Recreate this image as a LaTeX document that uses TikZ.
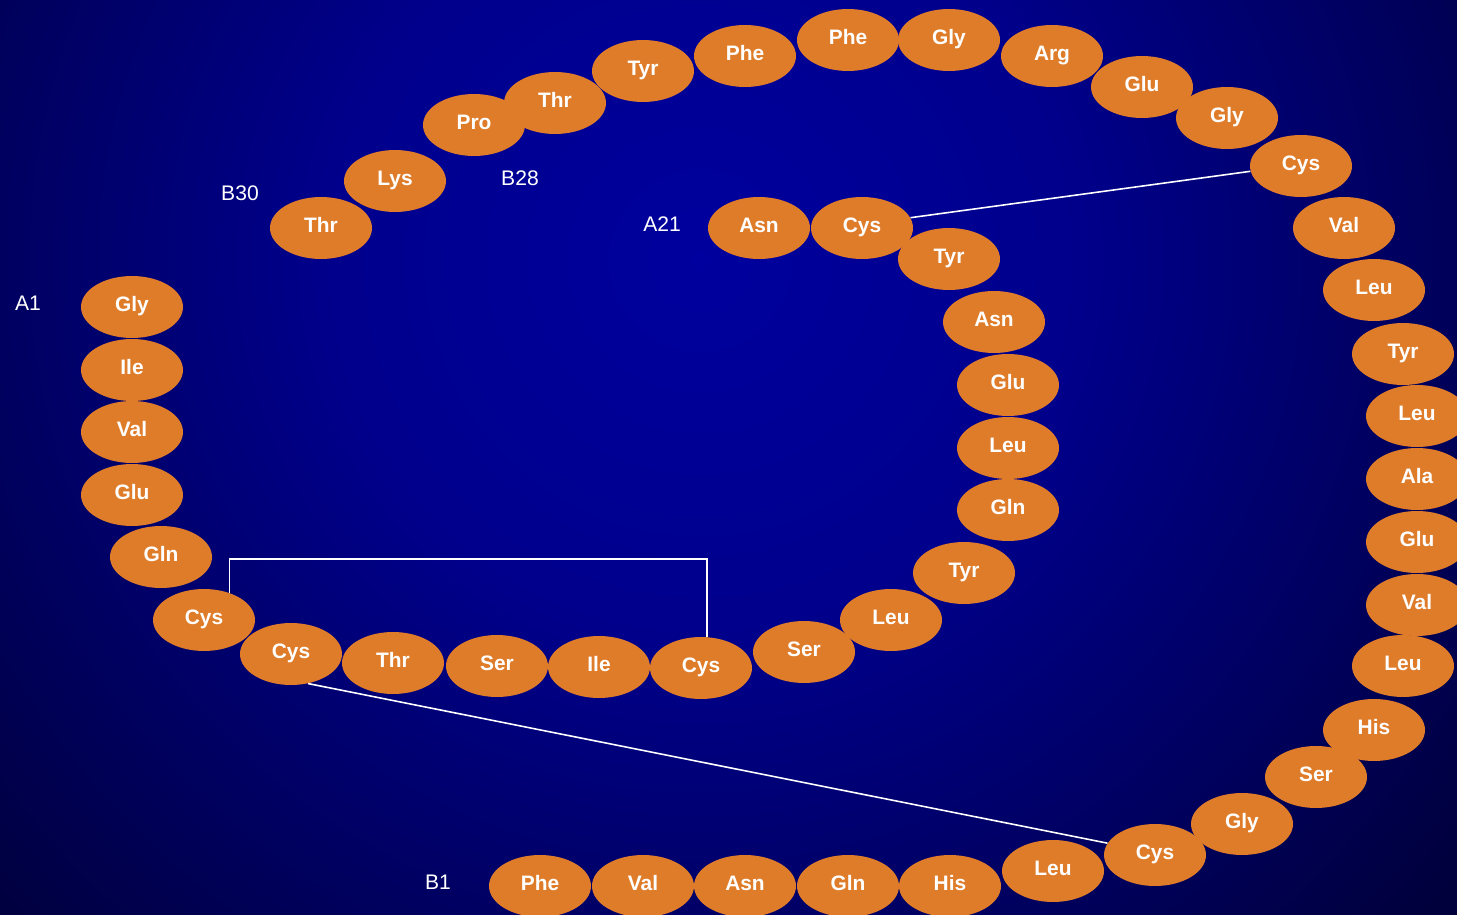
\documentclass[tikz,border=0pt]{standalone}
\usepackage{fontspec}
\setmainfont{Liberation Sans}
\usetikzlibrary{shapes.geometric, calc}

\definecolor{aminofill}{RGB}{223,124,42}
\definecolor{glowin}{RGB}{0,0,158}
\definecolor{glowmid}{RGB}{0,0,140}
\definecolor{glowhalf}{RGB}{0,0,62}
\definecolor{glowedge}{RGB}{0,0,26}
\definecolor{glowout}{RGB}{0,0,10}
\pgfdeclareradialshading{bgglow}{\pgfpoint{0bp}{0bp}}%
  {color(0bp)=(glowin); color(8bp)=(glowmid); color(21bp)=(glowhalf);
   color(30bp)=(glowedge); color(50bp)=(glowout)}

\begin{document}
\begin{tikzpicture}[
  x=0.02cm, y=-0.02cm,
  every node/.style={text=white},
  residue/.style={ellipse, fill=aminofill, minimum width=2.04cm,
                  minimum height=1.24cm, inner sep=0pt,
                  font=\fontsize{11.9}{14}\selectfont\bfseries,
                  text height=8.6pt, text depth=3.6pt},
  chainlabel/.style={font=\fontsize{12}{14}\selectfont, inner sep=0pt,
                     text height=8.7pt, text depth=0pt},
  bond/.style={draw=white, line width=0.9pt},
]
  \useasboundingbox (0,0) rectangle (1457,915);
  \clip (0,0) rectangle (1457,915);
  \shade[shading=bgglow] (700,260) circle (1150);

  % A chain
  \foreach \n/\x/\y/\t in {a1/132/307/Gly, a2/132/370/Ile, a3/132/432/Val,
      a4/132/495/Glu, a5/161/557/Gln, a6/204/620/Cys, a7/291/654/Cys,
      a8/393/663/Thr, a9/497/666/Ser, a10/599/667/Ile, a11/701/668/Cys,
      a12/804/652/Ser, a13/891/620/Leu, a14/964/573/Tyr, a15/1008/510/Gln,
      a16/1008/448/Leu, a17/1008/385/Glu, a18/994/322/Asn, a19/949/259/Tyr,
      a20/862/228/Cys, a21/759/228/Asn}
    \node[residue] (\n) at (\x,\y) {\t};

  % B chain
  \foreach \n/\x/\y/\t in {b1/540/886/Phe, b2/643/886/Val, b3/745/886/Asn,
      b4/848/886/Gln, b5/950/886/His, b6/1053/871/Leu, b7/1155/855/Cys,
      b8/1242/824/Gly, b9/1316/777/Ser, b10/1374/730/His, b11/1403/666/Leu,
      b12/1417/605/Val, b13/1417/542/Glu, b14/1417/479/Ala, b15/1417/416/Leu,
      b16/1403/354/Tyr, b17/1374/290/Leu, b18/1344/228/Val, b19/1301/166/Cys,
      b20/1227/118/Gly, b21/1142/87/Glu, b22/1052/56/Arg, b23/949/40/Gly,
      b24/848/40/Phe, b25/745/56/Phe, b26/643/71/Tyr, b27/555/103/Thr,
      b28/474/125/Pro, b29/395/181/Lys, b30/321/228/Thr}
    \node[residue] (\n) at (\x,\y) {\t};

  % chain ends
  \node[chainlabel] (lblA1)  at (28,303)  {A1};
  \node[chainlabel] (lblA21) at (662,224) {A21};
  \node[chainlabel] (lblB1)  at (438,882) {B1};
  \node[chainlabel] (lblB28) at (520,178) {B28};
  \node[chainlabel] (lblB30) at (240,193) {B30};

  % disulfide bonds
  \coordinate (bridgetop) at (460,559);
  \draw[bond] (a6.47) |- (bridgetop) -| (a11.79);
  \draw[bond] (a7.-60) -- (b7.166);
  \draw[bond] (a20.12) -- (b19.186);

\end{tikzpicture}
\end{document}
